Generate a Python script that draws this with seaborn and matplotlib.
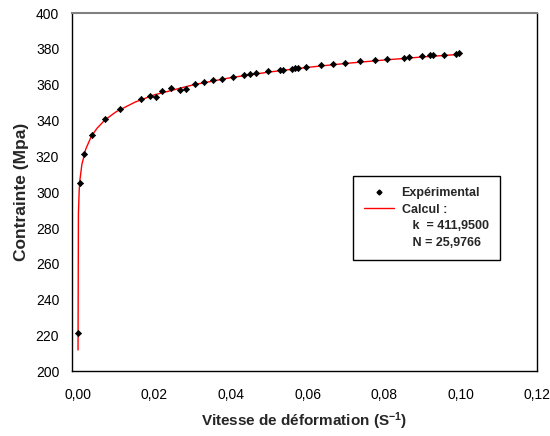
import matplotlib
matplotlib.use("Agg")
import matplotlib.pyplot as plt
from matplotlib.lines import Line2D
import numpy as np
import pandas as pd
import seaborn as sns

# experimental points (strain rate, stress)
exp_rate = [0.0000, 0.0005, 0.0016, 0.0036, 0.0071, 0.0109, 0.0164, 0.0187, 0.0203,
            0.0219, 0.0242, 0.0266, 0.0282, 0.0305, 0.0329, 0.0352, 0.0376, 0.0406,
            0.0433, 0.0449, 0.0465, 0.0496, 0.0527, 0.0535, 0.0559, 0.0567, 0.0574,
            0.0597, 0.0636, 0.0667, 0.0698, 0.0737, 0.0776, 0.0808, 0.0852, 0.0866,
            0.0898, 0.0921, 0.0929, 0.0956, 0.0987, 0.0995]
exp_stress = [221.7, 305.0, 321.5, 331.7, 340.7, 346.6, 352.1, 353.9, 353.2,
              356.3, 358.4, 356.9, 357.7, 360.4, 361.6, 362.7, 363.4, 364.5,
              365.5, 366.0, 366.6, 367.5, 368.3, 368.3, 369.0, 369.2, 369.2,
              370.1, 371.1, 371.6, 372.3, 373.1, 373.9, 374.4, 375.1, 375.3,
              375.9, 376.4, 376.4, 376.8, 377.4, 377.5]

# fitted curve
calc_rate = [0.0, 0.0001, 0.0003, 0.0005, 0.001, 0.002, 0.0035, 0.005, 0.007, 0.01,
             0.015, 0.02, 0.03, 0.04, 0.05, 0.06, 0.07, 0.08, 0.09, 0.1]
calc_stress = [212.0, 288.0, 301.0, 307.0, 315.5, 324.0, 331.3, 335.8, 340.3, 345.0,
               350.4, 354.4, 359.9, 364.0, 367.1, 369.7, 371.9, 373.8, 375.5, 377.0]

x_ticks = [0.0, 0.02, 0.04, 0.06, 0.08, 0.10, 0.12]
y_ticks = [200, 220, 240, 260, 280, 300, 320, 340, 360, 380, 400]

sns.set_theme(style="white")
plt.rcParams["font.family"] = ["Liberation Sans", "DejaVu Sans"]
plt.rcParams["mathtext.fontset"] = "custom"
plt.rcParams["mathtext.rm"] = "Liberation Sans"
plt.rcParams["mathtext.bf"] = "Liberation Sans:bold"

df_exp = pd.DataFrame({"rate": exp_rate, "stress": exp_stress})
df_calc = pd.DataFrame({"rate": calc_rate, "stress": calc_stress})

fig = plt.figure(figsize=(5.5, 4.36), dpi=100)
ax = fig.add_axes([0.1304, 0.148, 0.8460, 0.822])

sns.lineplot(data=df_calc, x="rate", y="stress", ax=ax, color="red", lw=1.0,
             sort=False, estimator=None)
sns.scatterplot(data=df_exp, x="rate", y="stress", ax=ax, color="black",
                marker="D", s=10, edgecolor="black", linewidth=0.5, zorder=3)

ax.set_xlim(-0.00165, 0.12)
ax.set_ylim(200, 400)
ax.set_xticks(x_ticks)
ax.set_xticklabels([f"{v:.2f}".replace(".", ",") for v in x_ticks])
ax.set_yticks(y_ticks)
ax.tick_params(axis="both", direction="out", labelsize=10, colors="black")
ax.tick_params(axis="x", length=5, width=0.8, pad=7)
ax.tick_params(axis="y", length=5, width=0.8, pad=4)

for side in ["left", "bottom", "right"]:
    ax.spines[side].set_color("black")
    ax.spines[side].set_linewidth(1.0)
ax.spines["top"].set_color("#808080")
ax.spines["top"].set_linewidth(1.5)

ax.set_xlabel(r"Vitesse de déformation ($\mathbf{S^{-1}}$)", fontsize=11,
              fontweight="bold", labelpad=6)
ax.set_ylabel("Contrainte (Mpa)", fontsize=12.5, fontweight="bold", labelpad=5)

handles = [
    Line2D([], [], color="black", marker="D", markersize=2.5, linestyle="none"),
    Line2D([], [], color="red", lw=1.0),
    Line2D([], [], color="none"),
    Line2D([], [], color="none"),
]
labels = ["Expérimental", "Calcul :", "   k  = 411,9500", "   N = 25,9766"]
leg = ax.legend(handles, labels, loc="upper left", bbox_to_anchor=(0.604, 0.545),
                borderaxespad=0, frameon=True, fancybox=False, framealpha=1,
                edgecolor="black", prop={"weight": "bold", "size": 9},
                handlelength=2.4, handletextpad=0.6, borderpad=0.9,
                labelspacing=0.35)
leg.get_frame().set_linewidth(1.0)

fig.savefig("out.png", dpi=100)
